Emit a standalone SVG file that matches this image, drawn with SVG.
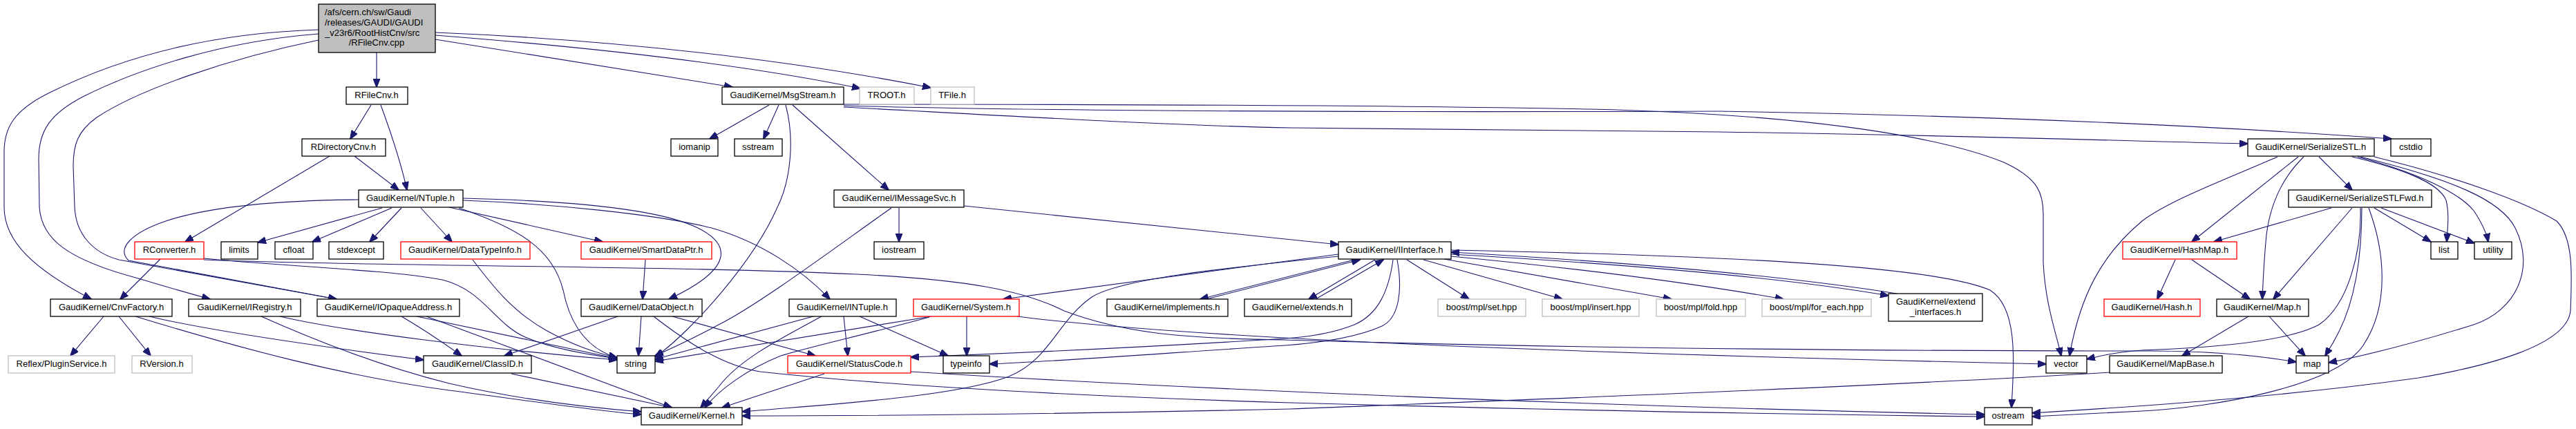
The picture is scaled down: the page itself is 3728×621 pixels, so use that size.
<svg xmlns="http://www.w3.org/2000/svg" width="3728" height="621" viewBox="0 0 3728 621">
<defs>
<marker id="a" markerWidth="13" markerHeight="10" refX="12" refY="5" orient="auto" markerUnits="userSpaceOnUse"><path d="M0,0 L13,5 L0,10 z" fill="#191970" stroke="#191970" stroke-width="1"/></marker>
</defs>
<style>
rect{fill:#ffffff;stroke:#000000;stroke-width:1.3}
rect.r{stroke:#ff0000}
rect.g{stroke:#bfbfbf}
rect.m{fill:#bfbfbf}
text{font-family:"Liberation Sans",Arial,Helvetica,sans-serif;font-size:13px;fill:#000000;text-anchor:middle}
text.l{text-anchor:start}
#edges path{fill:none;stroke:#191970;stroke-width:1.1;marker-end:url(#a)}
</style>
<rect x="0" y="0" width="3728" height="621" style="fill:#ffffff;stroke:none"/>
<g id="edges">
<path d="M545,76 L545,126"/>
<path d="M630,57 L1060,126"/>
<path d="M630,51 C900,72 1100,98 1245,128"/>
<path d="M630,47 C900,58 1150,88 1347,127"/>
<path d="M461,43 C300,48 170,85 70,135 C20,160 6,185 6,220 L6,300 C6,350 50,390 132,433"/>
<path d="M461,49 C320,60 200,100 120,140 C72,165 56,190 56,230 L57,300 C60,345 95,375 200,403 C240,415 275,425 304,433"/>
<path d="M461,58 C330,85 200,130 140,170 C112,190 106,210 106,240 L108,300 C110,340 135,366 172,376 L487,433"/>
<path d="M519,289 C400,290 300,300 240,320 C190,337 168,360 186,377 L487,433"/>
<path d="M537,152 L507,201"/>
<path d="M551,152 C565,190 580,235 589,275"/>
<path d="M513,226 L577,275"/>
<path d="M477,226 L268,350"/>
<path d="M232,375 L174,433"/>
<path d="M295,374 C400,385 560,390 640,405 C700,420 715,468 760,488 C800,505 850,513 893,519"/>
<path d="M295,376 C500,385 1000,385 1240,397 C1400,405 1480,420 1540,450 C1620,480 1700,490 1858,492 C2300,505 2700,508 3108,508 C3200,508 3270,515 3323,524"/>
<path d="M1472,458 C1700,487 2200,510 2961,527"/>
<path d="M553,301 L373,351"/>
<path d="M567,301 L452,350"/>
<path d="M581,301 L535,350"/>
<path d="M609,301 L654,350"/>
<path d="M650,300 L872,350"/>
<path d="M664,301 C750,330 800,360 815,420 C825,470 850,505 893,518"/>
<path d="M670,287 C800,290 950,300 1010,330 C1060,355 1060,390 968,433"/>
<path d="M670,290 C800,295 950,310 1030,330 C1100,350 1160,390 1201,433"/>
<path d="M1113,152 L1027,201"/>
<path d="M1127,152 L1105,201"/>
<path d="M1137,152 C1150,200 1145,260 1125,300 C1090,380 1000,480 948,517"/>
<path d="M1147,152 L1286,275"/>
<path d="M1221,151 C1600,151 2000,152 2300,158 C2600,165 2800,195 2900,235 C2950,258 2957,280 2957,310 L2957,380 C2960,440 2975,480 2983,515"/>
<path d="M1221,153 C1600,163 2200,162 2488,161 C2900,168 3200,182 3461,201"/>
<path d="M1221,155 C1500,170 1700,182 1868,185 L2488,191 C2900,197 3100,205 3253,208"/>
<path d="M1301,301 L1301,350"/>
<path d="M1290,301 C1220,350 1100,440 1040,470 C1000,492 970,505 948,515"/>
<path d="M1395,298 L1937,354"/>
<path d="M1937,368 L1452,433"/>
<path d="M1937,371 C1750,390 1620,405 1580,430 C1530,465 1520,520 1460,545 C1380,575 1200,585 1074,596"/>
<path d="M1960,376 L1737,433"/>
<path d="M1746,433 L1968,376"/>
<path d="M1990,376 L1894,433"/>
<path d="M1904,433 L2002,376"/>
<path d="M2036,376 L2126,433"/>
<path d="M2060,376 L2261,433"/>
<path d="M2090,375 L2419,433"/>
<path d="M2100,371 C2300,390 2450,410 2581,433"/>
<path d="M2100,368 C2400,385 2600,405 2733,428"/>
<path d="M2745,425 C2600,402 2400,382 2100,365"/>
<path d="M2100,362 C2500,370 2800,385 2880,420 C2920,445 2915,520 2911,590"/>
<path d="M2016,376 C2010,420 1995,455 1960,470 C1930,482 1890,488 1860,490 C1700,500 1500,510 1318,517"/>
<path d="M2022,376 C2030,420 2025,460 2000,472 C1960,490 1900,497 1860,500 C1700,510 1550,522 1432,527"/>
<path d="M1399,458 L1399,515"/>
<path d="M1348,458 L948,523"/>
<path d="M1345,459 C1250,485 1180,500 1130,515 C1080,535 1040,565 1020,590"/>
<path d="M1177,458 L948,520"/>
<path d="M1189,458 C1130,490 1070,520 1040,560 L1014,590"/>
<path d="M1221,458 L1227,515"/>
<path d="M1244,458 L1372,515"/>
<path d="M894,458 L730,515"/>
<path d="M928,458 L924,515"/>
<path d="M973,458 L1180,515"/>
<path d="M946,458 C1000,500 1050,530 1100,538 C1300,560 1600,575 1868,583 C2300,595 2600,600 2872,603"/>
<path d="M1318,538 C1700,562 2300,588 2872,600"/>
<path d="M1193,541 L1045,590"/>
<path d="M3053,539 C2700,560 2300,575 1868,592 C1500,600 1200,602 1074,602"/>
<path d="M740,541 L972,590"/>
<path d="M581,458 C610,475 640,495 668,515"/>
<path d="M603,458 L893,519"/>
<path d="M617,458 L972,590"/>
<path d="M405,458 C500,480 700,505 893,521"/>
<path d="M378,458 C450,490 550,530 650,555 C750,578 850,590 928,596"/>
<path d="M150,458 L102,515"/>
<path d="M172,458 L218,515"/>
<path d="M216,458 C300,478 450,500 613,521"/>
<path d="M196,458 C350,505 500,545 650,565 C780,582 870,596 928,600"/>
<path d="M684,376 C710,410 740,450 790,478 C830,500 860,510 893,518"/>
<path d="M934,376 L930,433"/>
<path d="M3148,376 L3122,433"/>
<path d="M3172,376 L3256,433"/>
<path d="M3254,458 L3158,515"/>
<path d="M3284,458 L3336,515"/>
<path d="M3296,227 C3220,260 3140,290 3100,320 C3040,370 3010,430 2995,515"/>
<path d="M3326,227 L3172,350"/>
<path d="M3334,227 C3300,260 3285,300 3280,340 C3276,380 3275,410 3274,433"/>
<path d="M3356,227 L3404,275"/>
<path d="M3404,227 C3480,245 3530,265 3540,290 C3545,310 3542,330 3541,350"/>
<path d="M3412,227 C3500,250 3560,280 3580,305 C3590,320 3598,335 3601,350"/>
<path d="M3416,227 C3550,260 3620,290 3640,330 C3670,390 3640,450 3580,470 C3500,495 3420,515 3370,525"/>
<path d="M3436,227 C3550,255 3650,290 3700,320 C3725,345 3722,400 3720,450 C3715,500 3600,530 3500,547 C3300,575 3100,588 2941,598"/>
<path d="M3374,301 L3204,350"/>
<path d="M3404,301 L3290,433"/>
<path d="M3416,301 C3418,360 3400,440 3356,470 C3300,500 3150,505 3100,507 C3060,510 3040,515 3020,520"/>
<path d="M3418,301 C3418,380 3405,440 3385,480 C3375,500 3368,510 3365,515"/>
<path d="M3428,301 C3450,360 3460,440 3420,500 C3380,560 3200,590 3100,595 L2941,603"/>
<path d="M3436,301 L3518,350"/>
<path d="M3446,301 L3581,352"/>
</g>
<g id="n_main"><rect class="m" x="461" y="6" width="169" height="70"/><text class="l" x="470" y="22">/afs/cern.ch/sw/Gaudi</text><text class="l" x="470" y="37">/releases/GAUDI/GAUDI</text><text class="l" x="470" y="52">_v23r6/RootHistCnv/src</text><text x="545" y="66">/RFileCnv.cpp</text></g>
<g id="n_RFileCnv"><rect x="501" y="126" width="89" height="25"/><text x="545" y="142">RFileCnv.h</text></g>
<g id="n_MsgStream"><rect x="1045" y="126" width="176" height="25"/><text x="1133" y="142">GaudiKernel/MsgStream.h</text></g>
<g id="n_TROOT"><rect class="g" x="1244" y="126" width="79" height="25"/><text x="1283" y="142">TROOT.h</text></g>
<g id="n_TFile"><rect class="g" x="1347" y="126" width="63" height="25"/><text x="1378" y="142">TFile.h</text></g>
<g id="n_RDirectoryCnv"><rect x="437" y="201" width="121" height="25"/><text x="497" y="217">RDirectoryCnv.h</text></g>
<g id="n_iomanip"><rect x="971" y="201" width="68" height="25"/><text x="1005" y="217">iomanip</text></g>
<g id="n_sstream"><rect x="1063" y="201" width="69" height="25"/><text x="1097" y="217">sstream</text></g>
<g id="n_SerializeSTL"><rect x="3253" y="201" width="183" height="25"/><text x="3344" y="217">GaudiKernel/SerializeSTL.h</text></g>
<g id="n_cstdio"><rect x="3460" y="201" width="58" height="25"/><text x="3489" y="217">cstdio</text></g>
<g id="n_NTuple"><rect x="519" y="275" width="151" height="25"/><text x="594" y="291">GaudiKernel/NTuple.h</text></g>
<g id="n_IMessageSvc"><rect x="1207" y="275" width="188" height="25"/><text x="1301" y="291">GaudiKernel/IMessageSvc.h</text></g>
<g id="n_SerializeSTLFwd"><rect x="3312" y="275" width="207" height="25"/><text x="3415" y="291">GaudiKernel/SerializeSTLFwd.h</text></g>
<g id="n_RConverter"><rect class="r" x="195" y="350" width="100" height="25"/><text x="245" y="366">RConverter.h</text></g>
<g id="n_limits"><rect x="320" y="350" width="53" height="25"/><text x="346" y="366">limits</text></g>
<g id="n_cfloat"><rect x="398" y="350" width="55" height="25"/><text x="425" y="366">cfloat</text></g>
<g id="n_stdexcept"><rect x="476" y="350" width="79" height="25"/><text x="515" y="366">stdexcept</text></g>
<g id="n_DataTypeInfo"><rect class="r" x="580" y="350" width="187" height="25"/><text x="673" y="366">GaudiKernel/DataTypeInfo.h</text></g>
<g id="n_SmartDataPtr"><rect class="r" x="841" y="350" width="189" height="25"/><text x="935" y="366">GaudiKernel/SmartDataPtr.h</text></g>
<g id="n_iostream"><rect x="1265" y="350" width="72" height="25"/><text x="1301" y="366">iostream</text></g>
<g id="n_IInterface"><rect x="1937" y="350" width="163" height="25"/><text x="2018" y="366">GaudiKernel/IInterface.h</text></g>
<g id="n_HashMap"><rect class="r" x="3072" y="350" width="165" height="25"/><text x="3154" y="366">GaudiKernel/HashMap.h</text></g>
<g id="n_list"><rect x="3518" y="350" width="39" height="25"/><text x="3537" y="366">list</text></g>
<g id="n_utility"><rect x="3581" y="350" width="54" height="25"/><text x="3608" y="366">utility</text></g>
<g id="n_CnvFactory"><rect x="73" y="433" width="176" height="25"/><text x="161" y="449">GaudiKernel/CnvFactory.h</text></g>
<g id="n_IRegistry"><rect x="273" y="433" width="162" height="25"/><text x="354" y="449">GaudiKernel/IRegistry.h</text></g>
<g id="n_IOpaqueAddress"><rect x="459" y="433" width="206" height="25"/><text x="562" y="449">GaudiKernel/IOpaqueAddress.h</text></g>
<g id="n_DataObject"><rect x="841" y="433" width="175" height="25"/><text x="928" y="449">GaudiKernel/DataObject.h</text></g>
<g id="n_INTuple"><rect x="1142" y="433" width="155" height="25"/><text x="1219" y="449">GaudiKernel/INTuple.h</text></g>
<g id="n_System"><rect class="r" x="1322" y="433" width="153" height="25"/><text x="1398" y="449">GaudiKernel/System.h</text></g>
<g id="n_implements"><rect x="1602" y="433" width="175" height="25"/><text x="1689" y="449">GaudiKernel/implements.h</text></g>
<g id="n_extends"><rect x="1801" y="433" width="155" height="25"/><text x="1878" y="449">GaudiKernel/extends.h</text></g>
<g id="n_set"><rect class="g" x="2081" y="433" width="127" height="25"/><text x="2144" y="449">boost/mpl/set.hpp</text></g>
<g id="n_insert"><rect class="g" x="2232" y="433" width="140" height="25"/><text x="2302" y="449">boost/mpl/insert.hpp</text></g>
<g id="n_fold"><rect class="g" x="2397" y="433" width="129" height="25"/><text x="2461" y="449">boost/mpl/fold.hpp</text></g>
<g id="n_for_each"><rect class="g" x="2550" y="433" width="158" height="25"/><text x="2629" y="449">boost/mpl/for_each.hpp</text></g>
<g id="n_extend_interfaces"><rect x="2733" y="425" width="136" height="40"/><text class="l" x="2744" y="441">GaudiKernel/extend</text><text x="2801" y="456">_interfaces.h</text></g>
<g id="n_Hash"><rect class="r" x="3045" y="433" width="139" height="25"/><text x="3114" y="449">GaudiKernel/Hash.h</text></g>
<g id="n_Map"><rect x="3208" y="433" width="133" height="25"/><text x="3274" y="449">GaudiKernel/Map.h</text></g>
<g id="n_Reflex"><rect class="g" x="12" y="515" width="154" height="25"/><text x="89" y="531">Reflex/PluginService.h</text></g>
<g id="n_RVersion"><rect class="g" x="191" y="515" width="87" height="25"/><text x="234" y="531">RVersion.h</text></g>
<g id="n_ClassID"><rect x="613" y="515" width="156" height="25"/><text x="691" y="531">GaudiKernel/ClassID.h</text></g>
<g id="n_string"><rect x="893" y="515" width="55" height="25"/><text x="920" y="531">string</text></g>
<g id="n_StatusCode"><rect class="r" x="1140" y="515" width="178" height="25"/><text x="1229" y="531">GaudiKernel/StatusCode.h</text></g>
<g id="n_typeinfo"><rect x="1365" y="515" width="67" height="25"/><text x="1398" y="531">typeinfo</text></g>
<g id="n_vector"><rect x="2961" y="515" width="59" height="25"/><text x="2990" y="531">vector</text></g>
<g id="n_MapBase"><rect x="3053" y="515" width="163" height="25"/><text x="3134" y="531">GaudiKernel/MapBase.h</text></g>
<g id="n_map"><rect x="3323" y="515" width="47" height="25"/><text x="3346" y="531">map</text></g>
<g id="n_Kernel"><rect x="928" y="590" width="146" height="25"/><text x="1001" y="606">GaudiKernel/Kernel.h</text></g>
<g id="n_ostream"><rect x="2872" y="590" width="69" height="25"/><text x="2906" y="606">ostream</text></g>
</svg>
